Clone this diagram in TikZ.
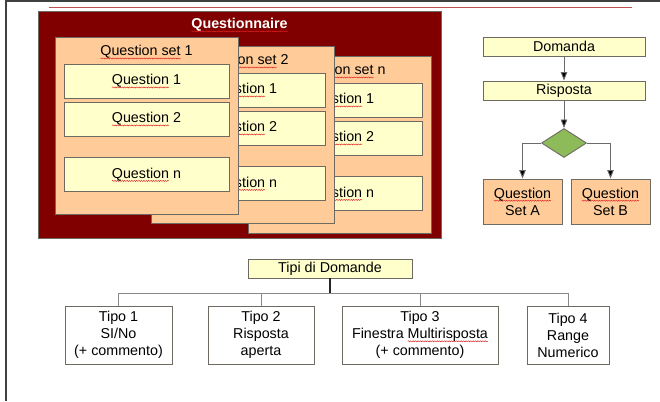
\documentclass[tikz,border=0pt]{standalone}
\usepackage{fontspec}
\setmainfont{Liberation Sans}
\usetikzlibrary{arrows.meta,shapes.geometric,decorations.pathmorphing}

\definecolor{qnred}{HTML}{800000}
\definecolor{peach}{HTML}{FFCC99}
\definecolor{qyellow}{HTML}{FFFFCC}
\definecolor{dgreen}{HTML}{8DBB5A}
\definecolor{boxgray}{HTML}{6E6A62}
\definecolor{linegray}{HTML}{6A6A6A}
\definecolor{framegray}{HTML}{404040}
\definecolor{rulered}{HTML}{C0504D}
\definecolor{spellred}{HTML}{E02020}

% red wavy underline of the spell checker under a word
\newsavebox\splbox
\newcommand\spl[1]{\sbox\splbox{#1}\begin{tikzpicture}[baseline=0pt]
  \path[use as bounding box] (0pt,0pt) rectangle (\wd\splbox,\ht\splbox);
  \draw[spellred, line width=0.45pt, decorate,
        decoration={snake, amplitude=0.55pt, segment length=2.4pt}]
    (0pt,-2.6pt) -- (\wd\splbox,-2.6pt);
\end{tikzpicture}\hspace{-\wd\splbox}\usebox\splbox}
\newcommand\mainsize{\fontsize{14.3}{17}\selectfont}

\tikzset{
  box/.style={draw=boxgray, line width=0.9pt, inner sep=0pt, align=center, font=\mainsize},
  qbox/.style={box, fill=qyellow, minimum width=165pt, minimum height=34pt},
  setbox/.style={box, fill=peach, minimum width=183pt, minimum height=176.5pt, anchor=north west},
  hdrbox/.style={box, fill=qyellow, minimum height=19pt},
  choicebox/.style={box, fill=peach, minimum width=79pt, minimum height=45pt},
  tipobox/.style={box, fill=white, minimum height=58pt},
  flow/.style={draw=linegray, line width=0.9pt, -{Triangle[width=6.5pt,length=8.5pt,fill=black]}},
  treeline/.style={draw=linegray!80, line width=0.9pt},
  stemline/.style={draw=black!85, line width=1.2pt},
}

% one question set: name, left, top, label of the set
\newcommand\drawqset[4]{%
  \node[setbox] (#1) at (#2,#3) {};
  \node[font=\mainsize, inner sep=0pt] (#1t) at ({#2+91.5},{#3+15}) {\spl{Question set} #4};
  \node[qbox] (#1a) at ({#2+91.5},{#3+44}) {\spl{Question} 1};
  \node[qbox] (#1b) at ({#2+91.5},{#3+82}) {\spl{Question} 2};
  \node[qbox] (#1c) at ({#2+91.5},{#3+137.5}) {\spl{Question} n};
}

\begin{document}
\begin{tikzpicture}[x=1pt,y=-1pt]
\useasboundingbox (0,0) rectangle (660,401);
\fill[white] (0,0) rectangle (660,401);

% page frame and header rule
\draw[framegray, line width=1.6pt] (6.2,401) -- (6.2,1) -- (660,1);
\draw[rulered, line width=1.6pt] (49,7.5) -- (632,7.5);

% questionnaire with stacked question sets
\node[box, fill=qnred, anchor=north west, minimum width=403pt, minimum height=227pt] (qn) at (38,11) {};
\node[font=\mainsize\bfseries, text=white, inner sep=0pt] (qnt) at (239.5,25) {\spl{Questionnaire}};
\drawqset{sn}{248}{56}{n}
\drawqset{s2}{151}{46}{2}
\drawqset{s1}{55}{37}{1}

% decision flow
\node[hdrbox, minimum width=162pt] (dom) at (564,46.5) {Domanda};
\node[hdrbox, minimum width=162pt] (risp) at (564,90.5) {Risposta};
\node[diamond, draw=boxgray, line width=0.9pt, fill=dgreen, inner sep=0pt,
      minimum width=45pt, minimum height=29pt] (dia) at (564,143) {};
\node[choicebox] (qa) at (522.5,201.5) {\spl{Question}\\Set A};
\node[choicebox] (qb) at (610.5,201.5) {\spl{Question}\\Set B};
\draw[flow] (dom) -- (risp);
\draw[flow] (risp) -- (dia);
\draw[flow] (dia.west) -| (qa.north);
\draw[flow] (dia.east) -| (qb.north);

% question types
\node[hdrbox, minimum width=164pt] (tipi) at (330,268.5) {Tipi di Domande};
\node[tipobox, minimum width=107pt] (t1) at (118.5,335) {Tipo 1\\SI/No\\(+ commento)};
\node[tipobox, minimum width=106pt] (t2) at (261,335) {Tipo 2\\Risposta\\aperta};
\node[tipobox, minimum width=156pt] (t3) at (420,335) {Tipo 3\\Finestra \spl{Multirisposta}\\(+ commento)};
\node[tipobox, minimum width=82pt] (t4) at (568,335) {Tipo 4\\Range\\Numerico};
\coordinate (bus) at (330,293);
\foreach \t in {t1,t2,t3,t4}
  \draw[treeline] (bus) -| (\t.north);
\draw[stemline] (tipi.south) -- (bus);
\end{tikzpicture}
\end{document}
